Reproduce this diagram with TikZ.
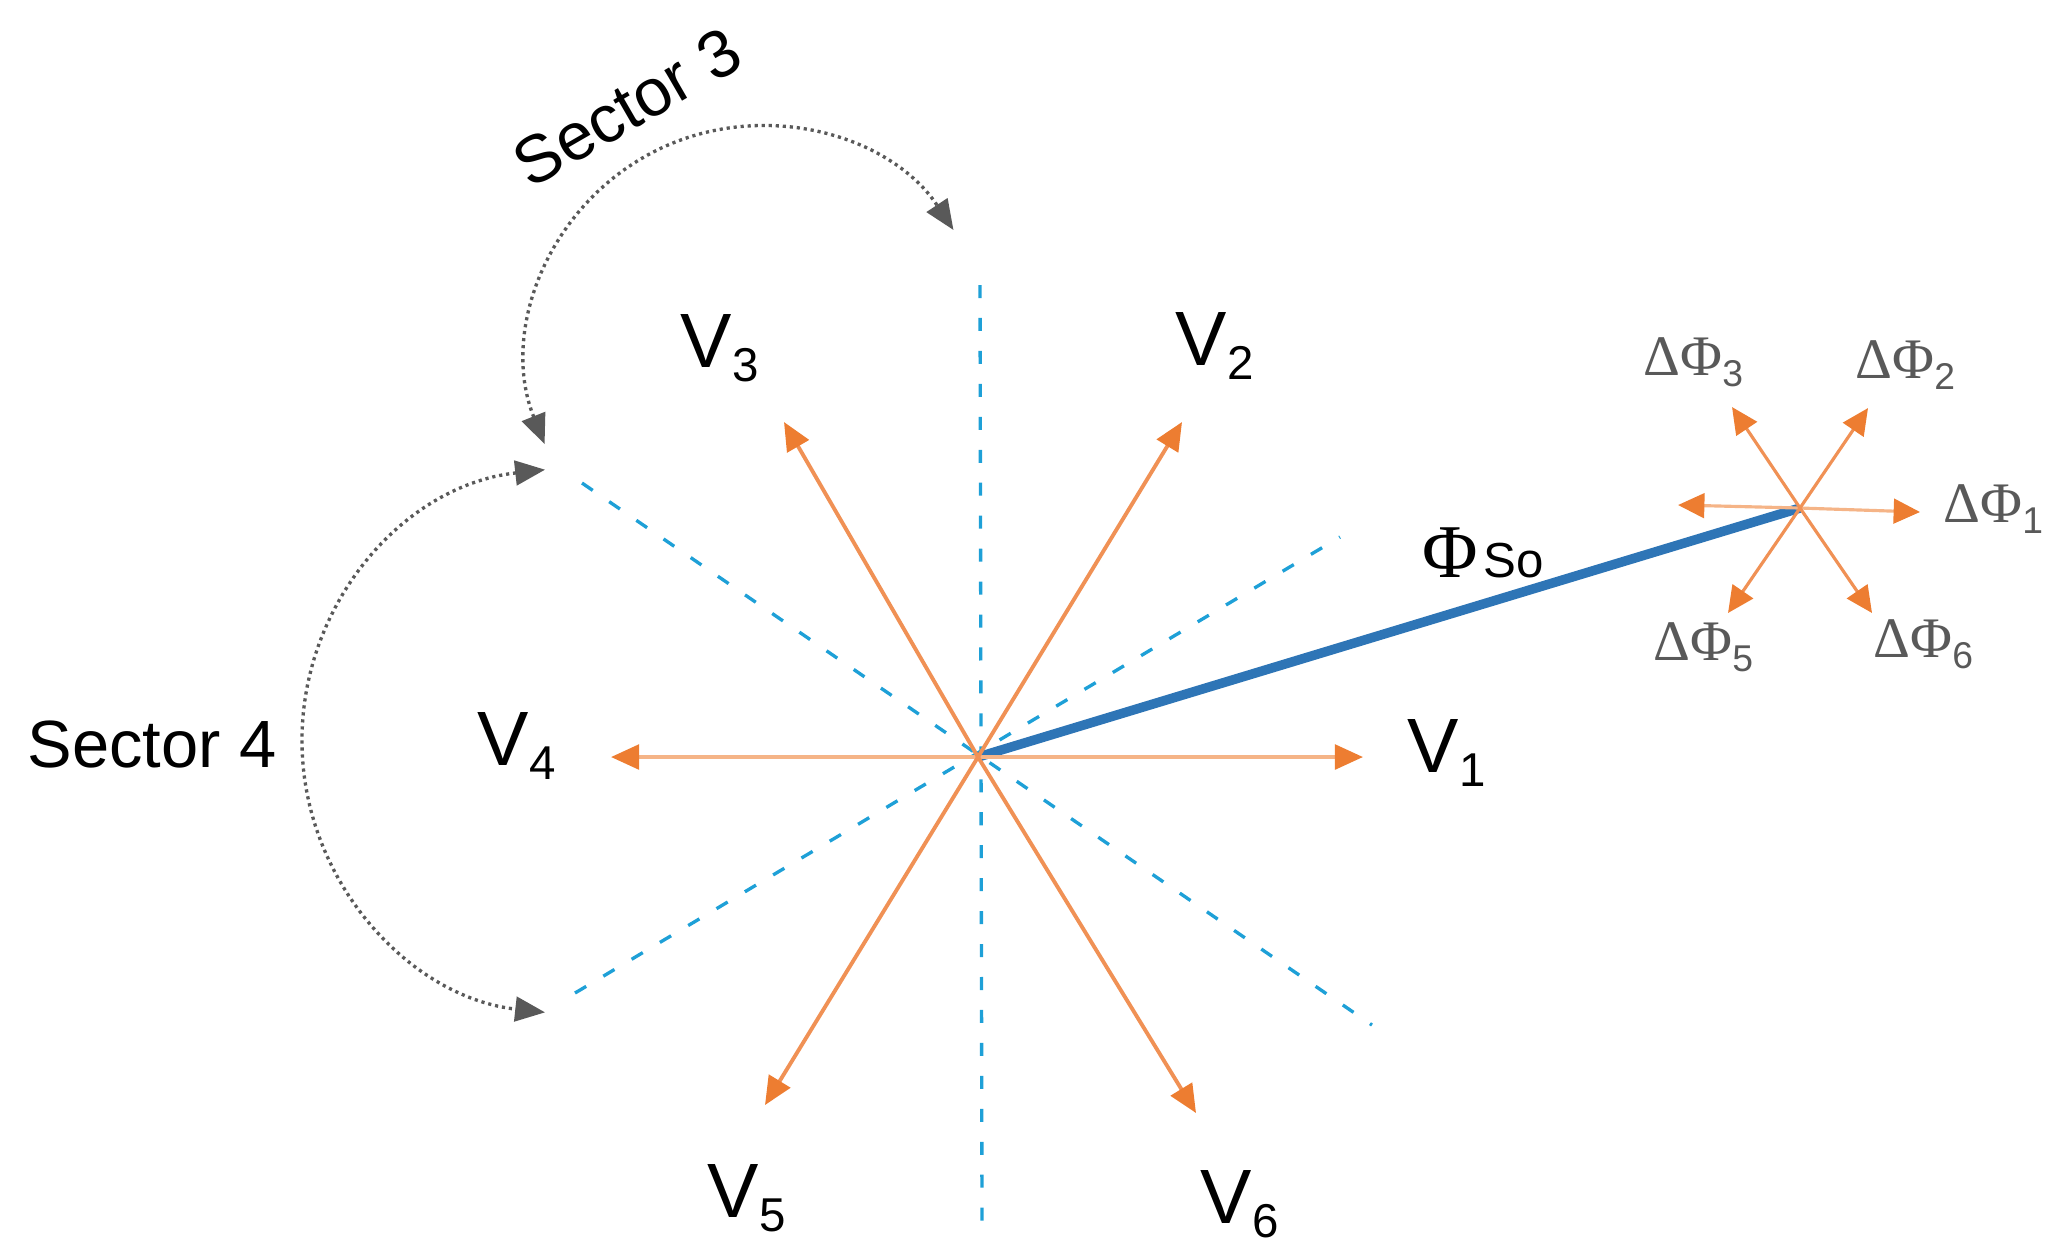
\documentclass[tikz,border=0pt]{standalone}
\usepackage{fontspec}
\setmainfont{Liberation Sans}
\newfontfamily\serf{Liberation Serif}
\usetikzlibrary{arrows.meta}
\definecolor{orA}{RGB}{237,125,49}
\definecolor{orL}{RGB}{240,145,85}
\definecolor{orH}{RGB}{245,180,135}
\definecolor{cyD}{RGB}{30,160,215}
\definecolor{blF}{RGB}{46,117,182}
\definecolor{grD}{RGB}{89,89,89}
\newcommand\vsub[1]{\raisebox{-4pt}{\fontsize{13.5pt}{14pt}\selectfont #1}}
\newcommand\dsub[1]{\raisebox{-3.4pt}{\rmfamily\fontsize{10.6pt}{11pt}\selectfont #1}}
\begin{document}
\begin{tikzpicture}[x=0.01cm,y=-0.01cm,
 vtip/.style={-{Triangle[length=8pt,width=7pt,color=orA]}, draw=orL, line width=1.1pt},
 vtiph/.style={vtip, draw=orH},
 dtip/.style={-{Triangle[length=7.5pt,width=7pt,color=orA]}, draw=orL, line width=0.9pt},
 dtiph/.style={dtip, draw=orH},
 sectline/.style={dash pattern=on 3.7pt off 5.67pt, draw=cyD, line width=0.95pt},
 sectarr/.style={{Triangle[length=8.5pt,width=7pt,color=grD]}-{Triangle[length=8.5pt,width=7pt,color=grD]}, draw=grD, line width=0.95pt, dash pattern=on 0.9pt off 1.1pt},
 vlab/.style={anchor=base west, inner sep=0pt, font=\fontsize{21.9pt}{24pt}\selectfont},
 dlab/.style={anchor=base west, inner sep=0pt, text=grD, font=\fontsize{16.3pt}{18pt}\selectfont\serf},
 slab/.style={inner sep=0pt, font=\fontsize{19pt}{21pt}\selectfont},
 flux/.style={draw=blF, line width=2.7pt}
]
\useasboundingbox (0,0) rectangle (2055,1259);
% coordinates
\coordinate (O) at (978,757);
\coordinate (v1) at (1363,757);
\coordinate (v4) at (611,757);
\coordinate (v2) at (1182,422);
\coordinate (v3) at (784,422);
\coordinate (v5) at (765,1105);
\coordinate (v6) at (1196,1113);
\coordinate (a1) at (980,285);
\coordinate (a2) at (982,1222);
\coordinate (b1) at (582,483);
\coordinate (b2) at (1372,1025);
\coordinate (c1) at (575,993);
\coordinate (c2) at (1340,537);
\coordinate (F) at (1800,508);
\coordinate (d1) at (1920,512);
\coordinate (d4) at (1678,505);
\coordinate (d2) at (1868,408);
\coordinate (d3) at (1732,407);
\coordinate (d5) at (1728,613);
\coordinate (d6) at (1872,613);
\coordinate (c3) at (760,358);
\coordinate (c4) at (575,741);
% sector boundaries
\draw[sectline] (a1) -- (a2);
\draw[sectline] (b1) -- (b2);
\draw[sectline] (c1) -- (c2);
% flux vector
\draw[flux] (O) -- (F);
% voltage vectors
\draw[vtiph] (O) -- (v1);
\draw[vtiph] (O) -- (v4);
\draw[vtip] (O) -- (v2);
\draw[vtip] (O) -- (v3);
\draw[vtip] (O) -- (v5);
\draw[vtip] (O) -- (v6);
% flux change vectors
\draw[dtiph] (F) -- (d1);
\draw[dtiph] (F) -- (d4);
\draw[dtip] (F) -- (d2);
\draw[dtip] (F) -- (d3);
\draw[dtip] (F) -- (d5);
\draw[dtip] (F) -- (d6);
% sector arcs
\draw[sectarr] (c3) ++(158.2:232) arc[start angle=158.2, end angle=326.5, radius=232];
\draw[sectarr] (c4) ++(263.7:273) arc[start angle=263.7, end angle=96.3, radius=273];
% labels
\node[vlab] (lv1) at (1407,772) {V\vsub{1}};
\node[vlab] (lv2) at (1175,365) {V\vsub{2}};
\node[vlab] (lv3) at (680,367) {V\vsub{3}};
\node[vlab] (lv4) at (477,765) {V\vsub{4}};
\node[vlab] (lv5) at (707,1217) {V\vsub{5}};
\node[vlab] (lv6) at (1200,1223) {V\vsub{6}};
\node[dlab] (ld1) at (1943,522) {ΔΦ\dsub{1}};
\node[dlab] (ld2) at (1855,378) {ΔΦ\dsub{2}};
\node[dlab] (ld3) at (1643,375) {ΔΦ\dsub{3}};
\node[dlab] (ld5) at (1653,660) {ΔΦ\dsub{5}};
\node[dlab] (ld6) at (1873,657) {ΔΦ\dsub{6}};
\node[anchor=base west, inner sep=0pt] (lphi) at (1422,577) {{\serf\fontsize{21.6pt}{24pt}\selectfont Φ}\hspace{1.5pt}{\fontsize{14pt}{16pt}\selectfont So}};
\node[slab, anchor=base west] (s4) at (27,767) {Sector 4};
\node[slab, rotate=30] (s3) at (627,107) {Sector 3};
\end{tikzpicture}
\end{document}
